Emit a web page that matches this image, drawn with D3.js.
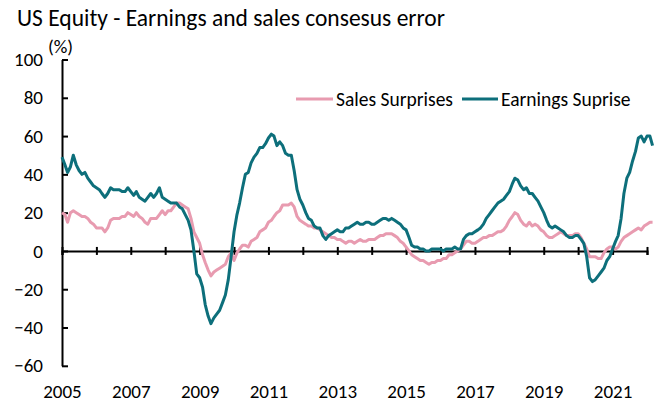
<!DOCTYPE html>
<html>
<head>
<meta charset="utf-8">
<script src="https://cdn.jsdelivr.net/npm/d3@7"></script>
<style>
  body { margin: 0; background: #fff; }
  text { font-family: Carlito, Lato, "Open Sans", sans-serif; fill: #000; }
</style>
</head>
<body>
<svg id="chart" width="659" height="403"></svg>
<script>
// monthly readings, Jan 2005 .. Mar 2022
var startDate = new Date(2005, 0, 1);

var salesSurprises = [
  20, 19, 15, 20, 21, 20, 19, 18, 18, 17, 15, 14,   // 2005
  12, 12, 12, 10, 12, 16, 17, 17, 17, 18, 18, 20,   // 2006
  19, 18, 20, 18, 17, 15, 14, 17, 17, 17, 19, 21,   // 2007
  19, 21, 21, 23, 25, 25, 24, 23, 22, 17, 10, 7,    // 2008
  4, -2, -6, -10, -13, -11, -10, -9, -8, -7, -3, -1, // 2009
  -5, -1, 1, 3, 3, 2, 5, 6, 7, 10, 11, 12,          // 2010
  15, 16, 18, 20, 21, 24, 24, 24, 25, 23, 18, 16,   // 2011
  15, 14, 13, 13, 12, 12, 11, 10, 9, 8, 7, 7,       // 2012
  6, 6, 5, 4, 5, 5, 4, 5, 6, 5, 5, 6,               // 2013
  6, 6, 7, 8, 8, 9, 9, 9, 8, 7, 5, 4,               // 2014
  2, 0, -2, -3, -4, -5, -5, -6, -7, -6, -6, -5,     // 2015
  -5, -4, -4, -2, -2, -1, 0, 1, 3, 5, 5, 4,         // 2016
  4, 5, 6, 7, 7, 8, 8, 9, 10, 10, 11, 13,           // 2017
  16, 18, 20, 19, 16, 14, 13, 15, 13, 14, 13, 11,   // 2018
  10, 8, 7, 7, 8, 9, 10, 9, 8, 8, 8, 9,             // 2019
  9, 7, 4, 1, -3, -3, -3, -4, -4, -1, 1, 2,         // 2020
  2, 1, 2, 5, 7, 8, 9, 10, 11, 12, 11, 13,          // 2021
  14, 15, 15                                        // 2022
];

var earningsSurprise = [
  49, 45, 41, 44, 50, 45, 42, 40, 41, 38, 36, 34,   // 2005
  33, 32, 30, 28, 30, 33, 32, 32, 32, 31, 31, 33,   // 2006
  31, 29, 31, 28, 27, 26, 28, 30, 28, 30, 33, 28,   // 2007
  27, 26, 25, 25, 25, 23, 22, 19, 16, 11, 0, -12,   // 2008
  -14, -19, -28, -34, -38, -35, -33, -31, -27, -23, -15, -3, // 2009
  10, 19, 25, 33, 40, 41, 46, 49, 51, 54, 54, 56,   // 2010
  59, 61, 60, 55, 57, 55, 51, 50, 50, 42, 32, 27,   // 2011
  24, 20, 17, 16, 13, 12, 12, 8, 6, 8, 9, 10,       // 2012
  11, 10, 10, 12, 12, 13, 14, 15, 14, 14, 15, 15,   // 2013
  14, 14, 15, 16, 17, 17, 16, 17, 16, 15, 14, 12,   // 2014
  11, 7, 3, 2, 2, 1, 1, 0, 0, 1, 1, 1,              // 2015
  1, 0, 1, 1, 1, 2, 1, 1, 6, 8, 9, 9,               // 2016
  10, 11, 12, 14, 17, 19, 21, 23, 25, 26, 27, 29,   // 2017
  31, 35, 38, 37, 34, 32, 33, 30, 30, 28, 26, 23,   // 2018
  20, 16, 13, 12, 13, 12, 11, 10, 8, 7, 7, 8,       // 2019
  8, 6, 4, -3, -14, -16, -15, -13, -11, -9, -5, -3, // 2020
  1, 5, 8, 17, 30, 38, 41, 47, 52, 59, 60, 57,      // 2021
  60, 60, 55                                        // 2022
];

var seriesNames = ["Sales Surprises", "Earnings Suprise"];
var yTicks = [-60, -40, -20, 0, 20, 40, 60, 80, 100];
var yearLabels = [2005, 2007, 2009, 2011, 2013, 2015, 2017, 2019, 2021];

var colors = { "Sales Surprises": "#e89bb0", "Earnings Suprise": "#0d6f7b" };

var svg = d3.select("#chart");

var x = d3.scaleTime()
  .domain([new Date(2005, 0, 1), new Date(2022, 0, 1)])
  .range([62, 647]);

var y = d3.scaleLinear()
  .domain([-60, 100])
  .range([365.8, 59.5]);

function toPoints(values) {
  return values.map(function(v, i) {
    return { date: d3.timeMonth.offset(startDate, i), value: v };
  });
}

// title
svg.append("text")
  .attr("x", 17)
  .attr("y", 26)
  .style("font-size", "23.5px")
  .text("US Equity - Earnings and sales consesus error");

svg.append("text")
  .attr("x", 48)
  .attr("y", 53)
  .style("font-size", "19px")
  .text("(%)");

// y axis, ticks pointing inward
var yAxis = svg.append("g")
  .attr("transform", "translate(" + x.range()[0] + ",0)")
  .call(d3.axisLeft(y).tickValues(yTicks).tickSizeInner(-6).tickSizeOuter(0).tickPadding(19));
yAxis.selectAll("path, line").attr("stroke", "#000").attr("stroke-width", 2);
yAxis.selectAll("text").style("font-size", "19px").attr("font-family", null);

// x axis on zero line, ticks every year crossing the line
var xAxis = svg.append("g")
  .attr("transform", "translate(0," + y(0) + ")")
  .call(d3.axisBottom(x).ticks(d3.timeYear.every(1)).tickSize(4).tickFormat(""));
xAxis.select(".domain").attr("stroke", "#000").attr("stroke-width", 2);
xAxis.selectAll(".tick line").attr("y1", -4).attr("y2", 4).attr("stroke", "#000").attr("stroke-width", 2);

// year labels along the bottom
var xLabels = svg.append("g")
  .attr("transform", "translate(0,384)")
  .call(d3.axisBottom(x).tickValues(yearLabels.map(function(yr) { return new Date(yr, 0, 1); }))
    .tickSize(0).tickPadding(0).tickFormat(d3.timeFormat("%Y")));
xLabels.select(".domain").remove();
xLabels.selectAll("text").style("font-size", "19px").attr("font-family", null);

// lines
var line = d3.line()
  .x(function(d) { return x(d.date); })
  .y(function(d) { return y(d.value); });

[salesSurprises, earningsSurprise].forEach(function(values, i) {
  svg.append("path")
    .datum(toPoints(values))
    .attr("fill", "none")
    .attr("stroke", colors[seriesNames[i]])
    .attr("stroke-width", 3)
    .attr("stroke-linejoin", "round")
    .attr("d", line);
});

// legend
var legendItems = [
  { name: seriesNames[0], x1: 296, x2: 333 },
  { name: seriesNames[1], x1: 462, x2: 498 }
];
var legend = svg.append("g").classed("legend", true);
legend.selectAll("line")
  .data(legendItems)
  .enter().append("line")
    .attr("x1", function(d) { return d.x1; })
    .attr("x2", function(d) { return d.x2; })
    .attr("y1", 99)
    .attr("y2", 99)
    .attr("stroke", function(d) { return colors[d.name]; })
    .attr("stroke-width", 3);
legend.selectAll("text")
  .data(legendItems)
  .enter().append("text")
    .attr("x", function(d) { return d.x2 + 3; })
    .attr("y", 99)
    .attr("dy", ".35em")
    .style("font-size", "19.5px")
    .text(function(d) { return d.name; });
</script>
</body>
</html>
